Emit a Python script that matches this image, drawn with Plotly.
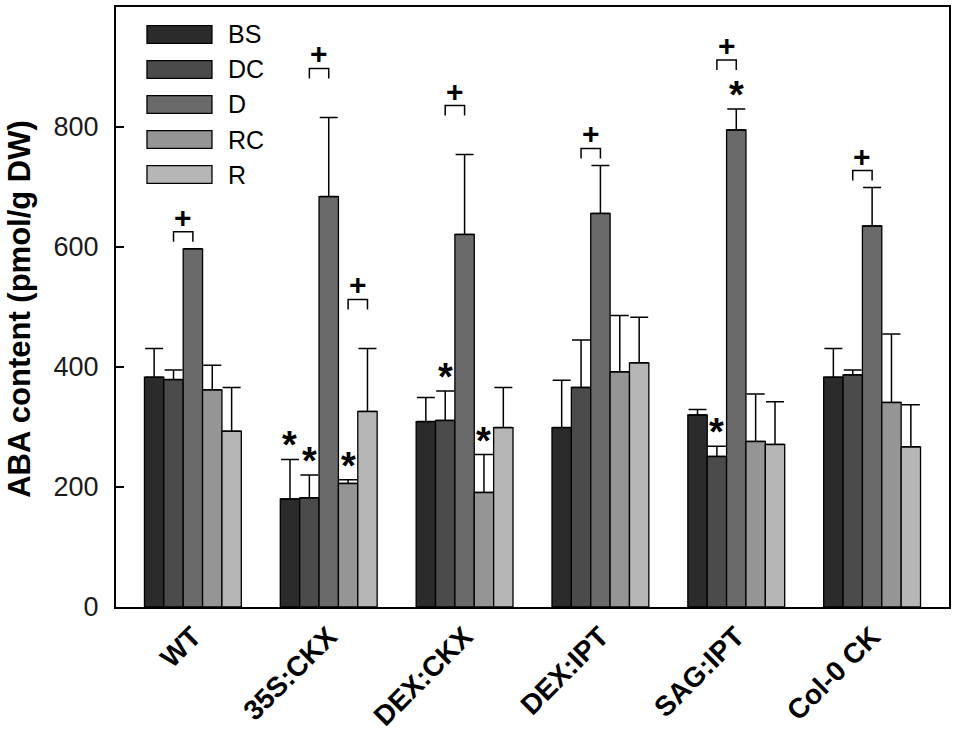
import plotly.graph_objects as go

# ABA content per line and treatment (pmol/g DW)
groups = ["WT", "35S:CKX", "DEX:CKX", "DEX:IPT", "SAG:IPT", "Col-0 CK"]
series = ["BS", "DC", "D", "RC", "R"]
colors = ["#2b2b2b", "#4b4b4b", "#6a6a6a", "#959595", "#b6b6b6"]

bs = [383, 180, 309, 299, 320, 383]
dc = [379, 182, 311, 366, 251, 387]
d = [597, 684, 621, 656, 795, 635]
rc = [362, 206, 191, 392, 276, 341]
r = [293, 326, 299, 407, 271, 267]

bs_err = [48, 66, 40, 79, 9, 48]
dc_err = [16, 38, 49, 79, 17, 8]
d_err = [0, 132, 133, 80, 35, 64]
rc_err = [41, 6, 63, 94, 79, 114]
r_err = [73, 105, 67, 76, 71, 70]

values = [bs, dc, d, rc, r]
errors = [bs_err, dc_err, d_err, rc_err, r_err]

# significance marks
stars = [("35S:CKX", "BS"), ("35S:CKX", "DC"), ("35S:CKX", "RC"),
         ("DEX:CKX", "DC"), ("DEX:CKX", "RC"),
         ("SAG:IPT", "DC"), ("SAG:IPT", "D")]
pluses = [("WT", "DC", "D"), ("35S:CKX", "DC", "D"), ("35S:CKX", "RC", "R"),
          ("DEX:CKX", "DC", "D"), ("DEX:IPT", "DC", "D"),
          ("SAG:IPT", "DC", "D"), ("Col-0 CK", "DC", "D")]

FONT = "Liberation Sans, Arial, sans-serif"
BARGAP = 0.287
slot = (1 - BARGAP) / len(series)
unit = 600 / 1000  # px per data unit on y


def xpos(g, s):
    return groups.index(g) + (series.index(s) - (len(series) - 1) / 2) * slot


def top(g, s):
    i, j = groups.index(g), series.index(s)
    return values[j][i] + errors[j][i]


fig = go.Figure()
for name, vals, errs, col in zip(series, values, errors, colors):
    fig.add_trace(go.Bar(
        x=groups, y=vals, name=name,
        marker=dict(color=col, line=dict(color="black", width=1.3)),
        error_y=dict(type="data", symmetric=False, array=errs,
                     arrayminus=[0] * len(errs), color="black",
                     thickness=1.5, width=9),
    ))

annotations = []
shapes = []
star_set = set(stars)
for g, s in stars:
    annotations.append(dict(x=xpos(g, s), y=top(g, s), xref="x", yref="y",
                            text="<b>*</b>", showarrow=False, yanchor="bottom",
                            yshift=-9, font=dict(family=FONT, size=38, color="black")))

for g, s1, s2 in pluses:
    base = max(top(g, s1), top(g, s2))
    if (g, s2) in star_set or (g, s1) in star_set:
        base += 32 / unit
    y0 = base + 7 / unit
    y1 = y0 + 10 / unit
    x0, x1 = xpos(g, s1), xpos(g, s2)
    shapes.append(dict(type="path", xref="x", yref="y",
                       path=f"M {x0},{y0} L {x0},{y1} L {x1},{y1} L {x1},{y0}",
                       line=dict(color="black", width=1.5)))
    annotations.append(dict(x=(x0 + x1) / 2, y=y1, xref="x", yref="y",
                            text="<b>+</b>", showarrow=False, yanchor="bottom",
                            yshift=-4, font=dict(family=FONT, size=30, color="black")))

# legend drawn by hand to get the long swatches
for k, (name, col) in enumerate(zip(series, colors)):
    yc = (607 - (34.5 + 35 * k)) / 600
    shapes.append(dict(type="rect", xref="paper", yref="paper",
                       x0=0.0372, x1=0.1152, y0=yc - 0.0147, y1=yc + 0.0147,
                       fillcolor=col, line=dict(color="black", width=1.3)))
    annotations.append(dict(x=0.132, y=yc, xref="paper", yref="paper",
                            text=name, showarrow=False, xanchor="left", yanchor="middle",
                            font=dict(family=FONT, size=25, color="black")))

# y title placed by hand
annotations.append(dict(x=-0.1152, y=0.497, xref="paper", yref="paper",
                        text="<b>ABA content (pmol/g DW)</b>", textangle=-90,
                        showarrow=False, xanchor="center", yanchor="middle",
                        font=dict(family=FONT, size=31, color="black")))

fig.update_layout(
    width=957, height=734,
    margin=dict(l=116, r=8, t=7, b=127),
    paper_bgcolor="white", plot_bgcolor="white",
    barmode="group", bargap=BARGAP, bargroupgap=0,
    showlegend=False,
    font=dict(family=FONT, color="black"),
    shapes=shapes, annotations=annotations,
    xaxis=dict(
        range=[-0.566, 5.566], showline=True, linecolor="black", linewidth=2,
        mirror=True, ticks="", tickangle=-45, automargin=False,
        tickfont=dict(family=FONT, size=28, color="black"),
        tickprefix="<b>", ticksuffix="</b>",
    ),
    yaxis=dict(
        range=[0, 1000], tickvals=[0, 200, 400, 600, 800],
        showline=True, linecolor="black", linewidth=2, mirror=True,
        ticks="inside", ticklen=8, tickwidth=1.5, tickcolor="black",
        ticklabelstandoff=10, automargin=False,
        showgrid=False, zeroline=False,
        tickfont=dict(family=FONT, size=27, color="#1a1a1a"),
    ),
)

fig.write_html("out.html", config={"displayModeBar": False},
               post_script="document.body.style.margin='0px';")
